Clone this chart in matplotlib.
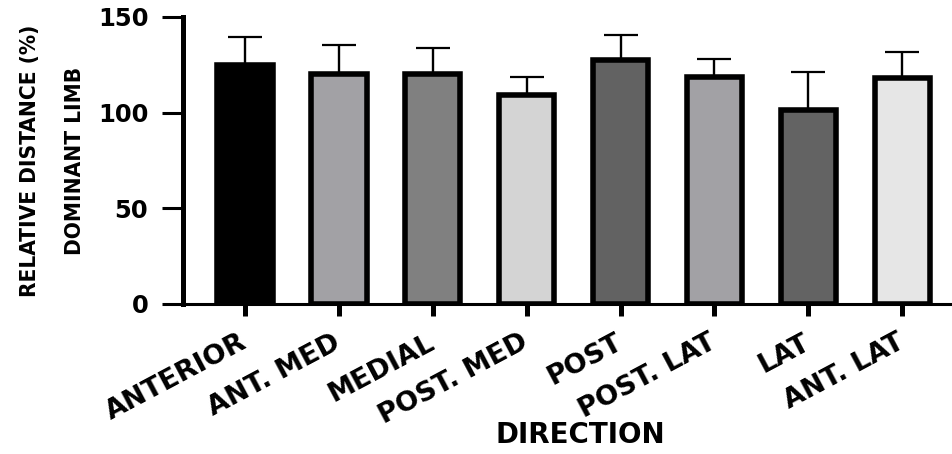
import matplotlib
matplotlib.use("Agg")
import matplotlib.pyplot as plt
from matplotlib import font_manager

# values
directions = ["ANTERIOR", "ANT. MED", "MEDIAL", "POST. MED",
              "POST", "POST. LAT", "LAT", "ANT. LAT"]
means = [124.9, 120.0, 120.0, 109.2, 127.3, 118.6, 101.3, 118.1]
sds = [14.8, 15.2, 14.0, 9.4, 13.1, 9.5, 20.1, 13.5]
fills = ["#000000", "#a2a1a5", "#808080", "#d4d4d4",
         "#626262", "#a2a1a5", "#636363", "#e6e6e6"]
y_ticks = [0, 50, 100, 150]

plt.rcParams['font.family'] = ['DejaVu Sans']
plt.rcParams['font.weight'] = 'bold'

# the y label in the reference is set in a narrow face; use one if there is one
narrow = None
for f in font_manager.fontManager.ttflist:
    if (f.stretch in ("condensed", "semi-condensed") or "Narrow" in f.name
            or "Condensed" in f.name) and f.weight in ("bold", 700):
        narrow = f.fname
        break

fig = plt.figure(figsize=(9.53, 4.54), dpi=100)
ax = fig.add_axes([0.192, 0.3304, 0.807, 0.6322])

x = list(range(len(directions)))

# upper error bars only
ax.errorbar(x, means, yerr=[[0] * len(sds), sds], fmt="none",
            ecolor="black", elinewidth=1.7, capsize=12, capthick=1.6,
            zorder=2)
ax.bar(x, means, width=0.59, color=fills, edgecolor="black",
       linewidth=4.0, zorder=3)

ax.set_xlim(-0.66, 7.53)
ax.set_ylim(0, 150)
ax.set_yticks(y_ticks)
ax.set_xticks(x)
ax.set_xticklabels(directions, rotation=28, ha="right", va="center",
                   rotation_mode="anchor", fontsize=19.5, fontweight="bold")
ax.tick_params(axis="y", labelsize=17.5, length=15, width=2.2, pad=10)
ax.tick_params(axis="x", length=8.6, width=3.6, pad=18)
for lab in ax.get_yticklabels():
    lab.set_fontweight("bold")

for side in ["top", "right"]:
    ax.spines[side].set_visible(False)
ax.spines["left"].set_linewidth(3.6)
ax.spines["bottom"].set_linewidth(2.2)

ax.set_xlabel("DIRECTION", fontsize=20, fontweight="bold")
ax.xaxis.set_label_coords(0.516, -0.408)
ax.xaxis.label.set_va("top")

ylab = "RELATIVE DISTANCE (%)\nDOMINANT LIMB"
if narrow:
    ax.set_ylabel(ylab, fontproperties=font_manager.FontProperties(
        fname=narrow, size=16.2, weight="bold"), linespacing=2.55)
else:
    ax.set_ylabel(ylab, fontsize=13.5, fontweight="bold", linespacing=3.0)
ax.yaxis.set_label_coords(-0.128, 0.5)

fig.savefig("out.png", dpi=100)
